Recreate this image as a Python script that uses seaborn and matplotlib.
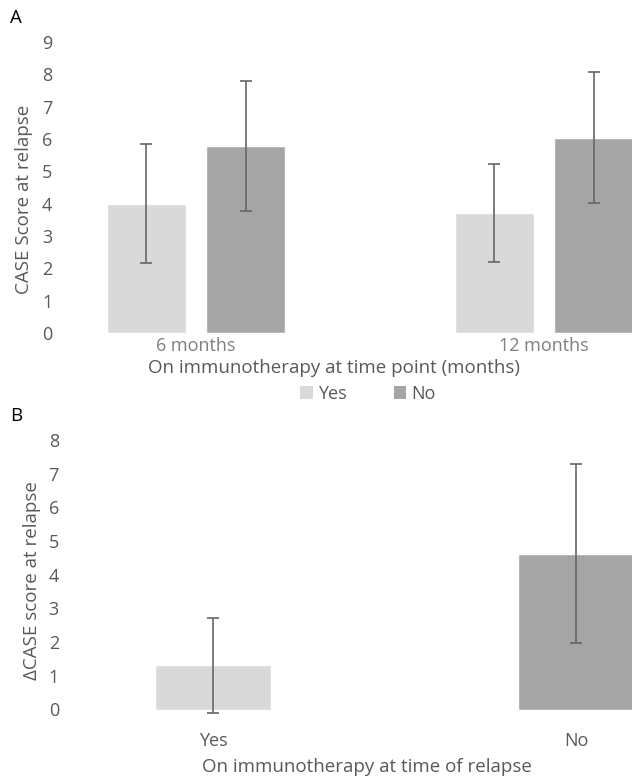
import matplotlib
matplotlib.use("Agg")
import matplotlib.pyplot as plt
import seaborn as sns
import pandas as pd
import numpy as np
from matplotlib.patches import Patch

# ---- data ----
timepoints = ["6 months", "12 months"]
groups = ["Yes", "No"]
caseA_yes = [4.0, 3.72]
caseA_no = [5.78, 6.04]
errA_yes = [1.84, 1.51]
errA_no = [2.0, 2.02]

relapse_groups = ["Yes", "No"]
delta_case = [1.32, 4.63]
delta_err = [1.41, 2.65]

colors = {"Yes": "#D9D9D9", "No": "#A5A5A5"}
err_color = "#666666"
text_color = "#595959"

sns.set_theme(style="white")
plt.rcParams["font.family"] = ["Open Sans", "DejaVu Sans"]

dfA = pd.DataFrame({
    "time": timepoints * 2,
    "group": ["Yes"] * 2 + ["No"] * 2,
    "score": caseA_yes + caseA_no,
    "err": errA_yes + errA_no,
})
dfB = pd.DataFrame({"group": relapse_groups, "score": delta_case, "err": delta_err})

W, H = 632, 781
fig = plt.figure(figsize=(W / 100, H / 100), dpi=100)

def px_axes(left, right, top, bottom):
    return fig.add_axes([left / W, 1 - bottom / H, (right - left) / W, (bottom - top) / H])

TICK_FS = 13
LABEL_FS = 13.5

# ---------- Panel A ----------
axA = px_axes(65, 632, 42, 333)
sns.barplot(data=dfA, x="time", y="score", hue="group", order=timepoints,
            hue_order=groups, palette=colors, width=0.569, gap=0.212,
            errorbar=None, legend=False, ax=axA, saturation=1)
pats = [p for p in axA.patches if p.get_width() > 0]
for p in pats:
    cx = p.get_x() + p.get_width() / 2
    h = p.get_height()
    row = dfA[np.isclose(dfA["score"], h)].iloc[0]
    axA.errorbar(cx, h, yerr=row["err"], fmt="none", ecolor=err_color,
                 elinewidth=1.2, capsize=4.5, capthick=1.2, clip_on=False)
axA.set_xlim((65 - 196) / 348, (632 - 196) / 348)
axA.set_ylim(0, 9)
axA.set_yticks(range(0, 10))
sns.despine(ax=axA, left=True, bottom=True)
axA.tick_params(axis="y", length=0, pad=9, labelsize=TICK_FS, labelcolor=text_color)
axA.tick_params(axis="x", length=0, pad=3, labelsize=TICK_FS, labelcolor="#7F7F7F")
axA.set_xlabel("")
axA.set_ylabel("CASE Score at relapse", fontsize=LABEL_FS, color=text_color)
axA.yaxis.set_label_coords(-0.056, 0.46)
fig.text(334 / W, 1 - 368 / H, "On immunotherapy at time point (months)",
         ha="center", va="center", fontsize=LABEL_FS, color=text_color)
handles = [Patch(facecolor=colors[g], edgecolor="none", label=g) for g in groups]
fig.legend(handles=handles, loc="center", bbox_to_anchor=(368 / W, 1 - 394 / H),
           ncol=2, frameon=False, fontsize=TICK_FS, handlelength=0.7, handleheight=0.7,
           handletextpad=0.3, columnspacing=2.6, labelcolor=text_color)
fig.text(10 / W, 1 - 18 / H, "A", ha="left", va="center", fontsize=LABEL_FS, color="black")

# ---------- Panel B ----------
axB = px_axes(70, 632, 440, 709.5)
sns.barplot(data=dfB, x="group", y="score", hue="group", order=relapse_groups,
            hue_order=relapse_groups, palette=colors, width=0.317,
            errorbar=None, legend=False, ax=axB, saturation=1)
pats = [p for p in axB.patches if p.get_width() > 0]
for p in pats:
    cx = p.get_x() + p.get_width() / 2
    h = p.get_height()
    row = dfB[np.isclose(dfB["score"], h)].iloc[0]
    axB.errorbar(cx, h, yerr=row["err"], fmt="none", ecolor=err_color,
                 elinewidth=1.2, capsize=4.5, capthick=1.2, clip_on=False)
axB.set_xlim((70 - 213) / 363, (632 - 213) / 363)
axB.set_ylim(0, 8)
axB.set_yticks(range(0, 9))
sns.despine(ax=axB, left=True, bottom=True)
axB.tick_params(axis="y", length=0, pad=8, labelsize=TICK_FS, labelcolor=text_color)
axB.tick_params(axis="x", length=0, pad=16, labelsize=TICK_FS, labelcolor=text_color)
axB.set_xlabel("")
axB.set_ylabel("\u0394CASE score at relapse", fontsize=LABEL_FS, color=text_color)
axB.yaxis.set_label_coords(-0.052, 0.478)
fig.text(367 / W, 1 - 767 / H, "On immunotherapy at time of relapse",
         ha="center", va="center", fontsize=LABEL_FS, color=text_color)
fig.text(10 / W, 1 - 416 / H, "B", ha="left", va="center", fontsize=LABEL_FS, color="black")

fig.savefig("out.png", dpi=100)
